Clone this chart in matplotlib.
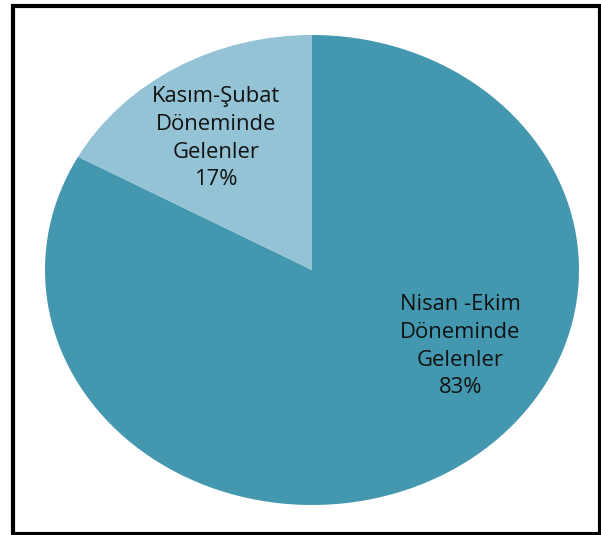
import matplotlib.pyplot as plt
from matplotlib.patches import Rectangle

labels = ['Nisan -Ekim\nDöneminde\nGelenler', 'Kasım-Şubat\nDöneminde\nGelenler']
values = [83, 17]
colors = ['#4397AE', '#93C3D4']

W, H = 601, 535
fig = plt.figure(figsize=(W / 100, H / 100), dpi=100)

# pie is an ellipse in the original: x 45..579, y 35..505 (pixels)
ax = fig.add_axes([45 / W, 1 - 505 / H, 534 / W, 470 / H])
wedges, texts = ax.pie(values, colors=colors, startangle=90, counterclock=False,
                       labels=[f'{l}\n{v}%' for l, v in zip(labels, values)],
                       labeldistance=0.65,
                       wedgeprops=dict(linewidth=0),
                       textprops=dict(family='Open Sans', fontsize=15.8, color='#111111',
                                      ha='center', va='center', linespacing=1.42))
ax.set_aspect('auto')
ax.set_xlim(-1, 1)
ax.set_ylim(-1, 1)

# Excel "best fit" places the big label off the bisector
texts[0].set_position((0.555, -0.325))
texts[1].set_position((-0.36, 0.56))

# black frame around the chart
fig.patches.append(Rectangle((13 / W, 1.5 / H), 587 / W, 528 / H, transform=fig.transFigure,
                             fill=False, edgecolor='black', linewidth=3))

fig.savefig('out.png', dpi=100)
